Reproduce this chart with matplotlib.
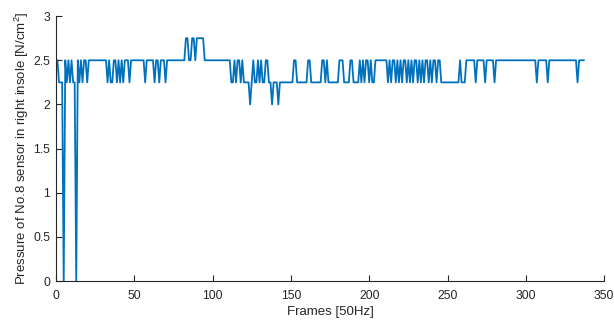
import numpy as np
import matplotlib
matplotlib.use("Agg")
import matplotlib.pyplot as plt

# Pressure readings (N/cm^2), one per frame
pressure = [
    2.5, 2.25, 2.25, 2.25, 0, 2.5, 2.25, 2.5, 2.25, 2.5, 2.25, 2.25, 0, 2.5, 2.25, 2.5, 2.25, 2.5, 2.5, 2.25,
    2.5, 2.5, 2.5, 2.5, 2.5, 2.5, 2.5, 2.5, 2.5, 2.5, 2.5, 2.5, 2.25, 2.5, 2.25, 2.25, 2.5, 2.5, 2.25, 2.5,
    2.25, 2.5, 2.25, 2.5, 2.5, 2.5, 2.25, 2.5, 2.5, 2.5, 2.5, 2.5, 2.5, 2.5, 2.5, 2.5, 2.25, 2.5, 2.5, 2.5,
    2.5, 2.5, 2.25, 2.5, 2.5, 2.25, 2.5, 2.5, 2.5, 2.25, 2.5, 2.5, 2.5, 2.5, 2.5, 2.5, 2.5, 2.5, 2.5, 2.5,
    2.5, 2.5, 2.75, 2.75, 2.5, 2.5, 2.75, 2.75, 2.5, 2.75, 2.75, 2.75, 2.75, 2.75, 2.5, 2.5, 2.5, 2.5, 2.5, 2.5,
    2.5, 2.5, 2.5, 2.5, 2.5, 2.5, 2.5, 2.5, 2.5, 2.5, 2.5, 2.25, 2.25, 2.5, 2.25, 2.5, 2.5, 2.25, 2.5, 2.25,
    2.25, 2.25, 2.25, 2.0, 2.25, 2.5, 2.25, 2.25, 2.5, 2.25, 2.5, 2.25, 2.25, 2.5, 2.5, 2.25, 2.25, 2.0, 2.25, 2.25,
    2.25, 2.0,
    2.25, 2.25, 2.25, 2.25, 2.25, 2.25, 2.25, 2.25, 2.25, 2.5, 2.5, 2.25, 2.25, 2.25, 2.25, 2.25, 2.25, 2.25, 2.5, 2.5,
    2.25, 2.25, 2.25, 2.25, 2.25, 2.25, 2.25, 2.5, 2.5, 2.25, 2.5, 2.25, 2.25, 2.25, 2.25, 2.25, 2.25, 2.25, 2.5, 2.5,
    2.5, 2.25, 2.25, 2.25, 2.25, 2.5, 2.5, 2.25, 2.25, 2.25, 2.25, 2.5, 2.25, 2.5, 2.25, 2.5, 2.5, 2.25, 2.5, 2.25,
    2.25, 2.5, 2.5, 2.5, 2.5, 2.5, 2.5, 2.5, 2.5, 2.25, 2.5, 2.25, 2.5, 2.5, 2.25, 2.5, 2.25, 2.5, 2.25, 2.5,
    2.5, 2.25, 2.5, 2.25, 2.5, 2.25, 2.5, 2.5, 2.25, 2.5, 2.25, 2.5, 2.25, 2.5, 2.5, 2.25, 2.5, 2.25, 2.5, 2.5,
    2.25, 2.5, 2.5, 2.25, 2.25, 2.25, 2.25, 2.25, 2.25, 2.25, 2.25, 2.25, 2.25, 2.25, 2.25, 2.5, 2.25, 2.25, 2.25, 2.5,
    2.5, 2.5, 2.5, 2.5, 2.5, 2.25, 2.5, 2.5, 2.5, 2.5, 2.5, 2.25, 2.5, 2.5, 2.5, 2.5, 2.5, 2.25, 2.5, 2.5,
    2.5, 2.5, 2.5, 2.5, 2.5, 2.5, 2.5, 2.5, 2.5, 2.5, 2.5, 2.5, 2.5, 2.5, 2.5, 2.5, 2.5, 2.5, 2.5, 2.5,
    2.5, 2.5, 2.5, 2.5, 2.25, 2.5, 2.5, 2.5, 2.5, 2.5, 2.5, 2.25, 2.5, 2.5, 2.5, 2.5, 2.5, 2.5, 2.5, 2.5,
    2.5, 2.5, 2.5, 2.5, 2.5, 2.5, 2.5, 2.5, 2.5, 2.5, 2.25, 2.5, 2.5, 2.5, 2.5,
]
frames = np.arange(1, len(pressure) + 1)

x_ticks = [0, 50, 100, 150, 200, 250, 300, 350]
y_ticks = [0, 0.5, 1, 1.5, 2, 2.5, 3]
y_tick_labels = ['0', '0.5', '1', '1.5', '2', '2.5', '3']
x_label = "Frames [50Hz]"
y_label = "Pressure of No.8 sensor in right insole [N/cm$^2$]"

plt.rcParams['font.family'] = ['Liberation Sans', 'DejaVu Sans']
plt.rcParams['mathtext.fontset'] = 'custom'
plt.rcParams['mathtext.rm'] = 'Liberation Sans'

fig = plt.figure(figsize=(6.14, 3.23), dpi=100)
ax = fig.add_axes([0.091, 0.130, 0.893, 0.820])
ax.plot(frames, pressure, color='#0072BD', linewidth=1.3)

ax.set_xlim(0, 350)
ax.set_ylim(0, 3)
ax.set_xticks(x_ticks)
ax.set_yticks(y_ticks)
ax.set_yticklabels(y_tick_labels)
ax.spines['top'].set_visible(False)
ax.spines['right'].set_visible(False)
for s in ('left', 'bottom'):
    ax.spines[s].set_color('#262626')
    ax.spines[s].set_linewidth(0.8)
ax.tick_params(direction='in', length=4, width=0.8, colors='#262626', labelsize=8.8)
ax.tick_params(axis='x', pad=6.5)
ax.tick_params(axis='y', pad=4)
ax.set_xlabel(x_label, fontsize=9.5, color='#262626', labelpad=3)
ax.set_ylabel(y_label, fontsize=9.5, color='#262626', labelpad=2)

fig.savefig('out.png', dpi=100)
